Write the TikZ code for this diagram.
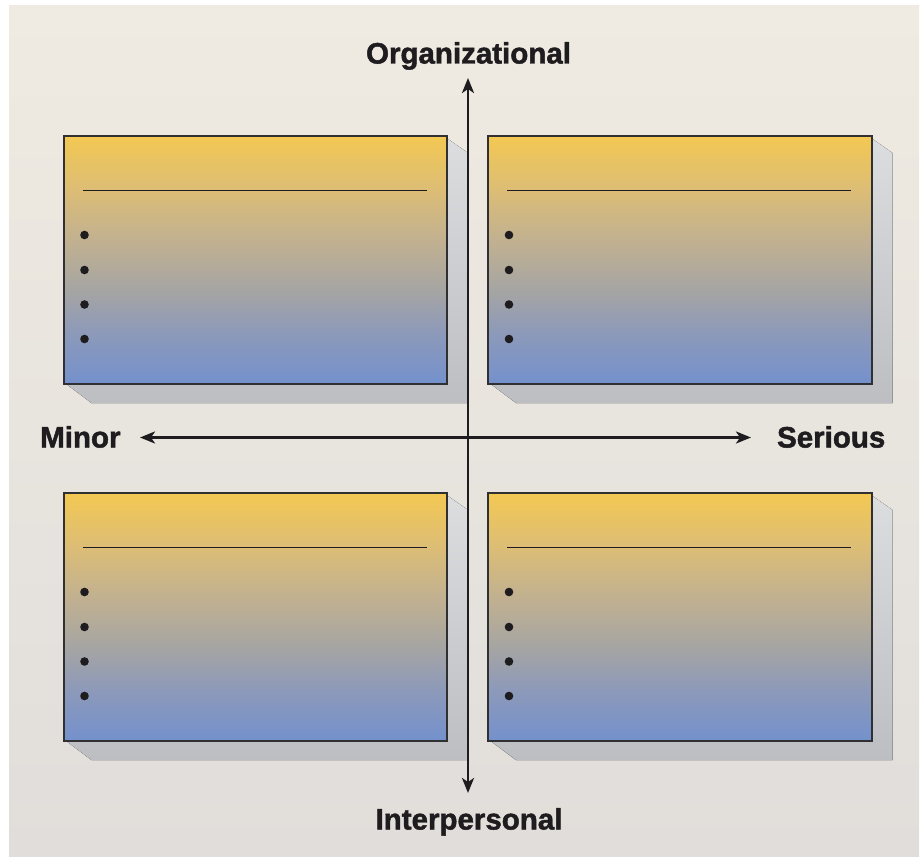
\documentclass[tikz,border=0pt]{standalone}
\usepackage{fontspec}
\setmainfont{Liberation Sans}
\newfontfamily\axisfont[FakeBold=1.6]{Liberation Sans Bold}
\usetikzlibrary{arrows.meta,calc}

% colours
\definecolor{bgtop}{RGB}{239,235,226}
\definecolor{bgbot}{RGB}{225,221,218}
\definecolor{edge}{RGB}{48,48,50}
\definecolor{inkdark}{RGB}{30,28,30}
\definecolor{shadetop}{RGB}{220,221,223}
\definecolor{shadebot}{RGB}{188,190,194}
\definecolor{fadeA}{RGB}{116,145,205}
\definecolor{fadeB}{RGB}{140,153,186}
\definecolor{fadeC}{RGB}{166,165,163}
\definecolor{fadeD}{RGB}{196,178,142}
\definecolor{fadeE}{RGB}{220,189,118}
\definecolor{fadeF}{RGB}{243,200,82}

% yellow-to-blue fill of the four panels (bottom to top)
\pgfdeclareverticalshading{panelfade}{100bp}{%
  color(0bp)=(fadeA); color(25bp)=(fadeA); color(35bp)=(fadeB);
  color(44bp)=(fadeC); color(55bp)=(fadeD); color(64bp)=(fadeE);
  color(75bp)=(fadeF); color(100bp)=(fadeF)}

\pgfdeclarelayer{backdrop}
\pgfdeclarelayer{shadows}
\pgfsetlayers{backdrop,shadows,main}

\begin{document}
\begin{tikzpicture}[x=1pt,y=-1pt,
  panel/.style={rectangle, draw=edge, line width=2pt, shade, shading=panelfade,
    minimum width=383.5pt, minimum height=248pt, inner sep=0pt, anchor=north west},
  dropshadow/.style={top color=shadetop, bottom color=shadebot},
  rule/.style={draw=inkdark, line width=1.6pt},
  dot/.style={fill=inkdark},
  axisline/.style={draw=inkdark, line width=2.6pt,
    {Stealth[length=15pt,width=12pt,inset=4pt]}-{Stealth[length=15pt,width=12pt,inset=4pt]}},
  axislabel/.style={inner sep=0pt, text=inkdark,
    font=\axisfont\fontsize{29.5}{34}\selectfont}]

\useasboundingbox (0,0) rectangle (920,856);

% backdrop
\begin{pgfonlayer}{backdrop}
  \fill[top color=bgtop, bottom color=bgbot] (9,6) rectangle (919,856);
\end{pgfonlayer}

% four panels
\node[panel] (tl) at (62.5,135) {};
\node[panel] (tr) at (487,135) {};
\node[panel] (bl) at (62.5,492) {};
\node[panel] (br) at (487,492) {};

\foreach \p in {tl,tr,bl,br}{
  % slanted drop shadow
  \begin{pgfonlayer}{shadows}
    \fill[dropshadow] ($(\p.south west)+(5,0)$) -- ($(\p.south west)+(29,18)$)
      -- ($(\p.south east)+(20,18)$) -- ($(\p.north east)+(20,18)$)
      -- ($(\p.north east)+(0,4)$) -- cycle;
  \end{pgfonlayer}
  % heading rule
  \draw[rule] ($(\p.north west)+(20,55.5)$) -- ($(\p.north east)+(-21.5,55.5)$);
  % bullet points
  \foreach \dy in {100,135,169.5,204}
    \fill[dot] ($(\p.north west)+(22,\dy)$) circle (4.3pt);
}

% axes
\coordinate (up) at (468,78);
\coordinate (down) at (468,793);
\coordinate (west) at (140,437.5);
\coordinate (east) at (751,437.5);
\draw[axisline] (down) -- (up);
\draw[axisline] (west) -- (east);

% axis labels
\node[axislabel, anchor=base] (org) at (468.5,63.5) {Organizational};
\node[axislabel, anchor=base] (inter) at (469,829.5) {Interpersonal};
\node[axislabel, anchor=base west] (minor) at (40,447.5) {Minor};
\node[axislabel, anchor=base east] (serious) at (885.5,447.5) {Serious};

\end{tikzpicture}
\end{document}
